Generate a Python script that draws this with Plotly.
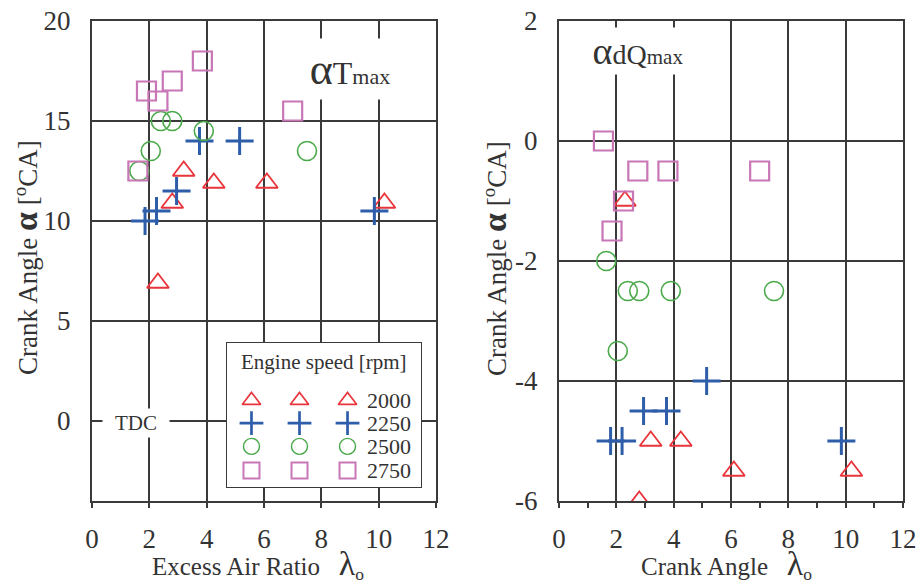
import plotly.graph_objects as go

# ---------------- data ----------------
speeds = ["2000", "2250", "2500", "2750"]

# Left panel: alpha_Tmax vs excess air ratio
tmax_2000_x = [3.2, 4.25, 6.1, 2.8, 10.2, 2.3]
tmax_2000_y = [12.5, 11.9, 11.9, 10.9, 10.9, 6.9]
tmax_2250_x = [3.75, 5.15, 2.95, 2.25, 1.85, 9.85]
tmax_2250_y = [14.0, 14.0, 11.5, 10.5, 10.0, 10.5]
tmax_2500_x = [2.4, 2.8, 3.9, 2.05, 7.5, 1.65]
tmax_2500_y = [15.0, 15.0, 14.5, 13.5, 13.5, 12.5]
tmax_2750_x = [3.85, 2.8, 1.9, 2.3, 7.0, 1.6]
tmax_2750_y = [18.0, 17.0, 16.5, 16.0, 15.5, 12.5]

# Right panel: alpha_dQmax vs excess air ratio
dq_2000_x = [2.3, 3.2, 4.25, 6.1, 10.2, 2.8]
dq_2000_y = [-1.0, -5.0, -5.0, -5.5, -5.5, -6.0]
dq_2250_x = [5.15, 2.95, 3.75, 1.8, 2.2, 9.85]
dq_2250_y = [-4.0, -4.5, -4.5, -5.0, -5.0, -5.0]
dq_2500_x = [1.65, 2.4, 2.8, 3.9, 7.5, 2.05]
dq_2500_y = [-2.0, -2.5, -2.5, -2.5, -2.5, -3.5]
dq_2750_x = [1.55, 2.75, 3.8, 7.0, 2.25, 1.85]
dq_2750_y = [0.0, -0.5, -0.5, -0.5, -1.0, -1.5]

x_ticks = [0, 2, 4, 6, 8, 10, 12]
left_y_ticks = [0, 5, 10, 15, 20]
right_y_ticks = [-6, -4, -2, 0, 2]

# ---------------- style ----------------
colors = ["#e8343a", "#2e5daa", "#4aaa4a", "#c876b6"]
symbols = ["triangle-up-open", "cross-thin-open", "circle-open", "square-open"]
sizes = [19, 20, 19, 19]
widths = [1.8, 3, 1.6, 2.2]
FONT = "Liberation Serif"
GRID = "#3a3a3a"
TXT = "#333333"

fig = go.Figure()

left_sets = [(tmax_2000_x, tmax_2000_y), (tmax_2250_x, tmax_2250_y),
             (tmax_2500_x, tmax_2500_y), (tmax_2750_x, tmax_2750_y)]
right_sets = [(dq_2000_x, dq_2000_y), (dq_2250_x, dq_2250_y),
              (dq_2500_x, dq_2500_y), (dq_2750_x, dq_2750_y)]

for i, (xs, ys) in enumerate(left_sets):
    fig.add_trace(go.Scatter(x=xs, y=ys, mode="markers", xaxis="x", yaxis="y",
                             showlegend=False,
                             marker=dict(symbol=symbols[i], size=sizes[i], color=colors[i],
                                         line=dict(width=widths[i], color=colors[i]))))
for i, (xs, ys) in enumerate(right_sets):
    fig.add_trace(go.Scatter(x=xs, y=ys, mode="markers", xaxis="x2", yaxis="y2",
                             showlegend=False,
                             marker=dict(symbol=symbols[i], size=sizes[i], color=colors[i],
                                         line=dict(width=widths[i], color=colors[i]))))

# custom legend (three marker columns per row) on an overlay axis pair
leg_cols = [0.13, 0.375, 0.62]
leg_rows = [0.60, 0.445, 0.285, 0.12]
for i in range(4):
    fig.add_trace(go.Scatter(x=leg_cols, y=[leg_rows[i]] * 3, mode="markers",
                             xaxis="x3", yaxis="y3", showlegend=False, hoverinfo="skip",
                             marker=dict(symbol=symbols[i], size=sizes[i] - 3, color=colors[i],
                                         line=dict(width=widths[i] * 0.9, color=colors[i]))))

# ---------------- layout ----------------
W, H = 917, 584
L0, L1 = 92 / W, 436 / W
R0, R1 = 559 / W, 903 / W

common_x = dict(range=[0, 12], tickvals=x_ticks, showgrid=True, gridcolor=GRID, gridwidth=2,
                showline=True, linecolor=GRID, linewidth=2, mirror=True, zeroline=False,
                ticks="outside", ticklen=5, tickwidth=2, tickcolor=GRID, automargin=False,
                tickfont=dict(family=FONT, size=27, color=TXT), ticklabelstandoff=8)
common_y = dict(showgrid=True, gridcolor=GRID, gridwidth=2, showline=True, linecolor=GRID,
                linewidth=2, mirror=True, zeroline=False, ticks="", automargin=False,
                tickfont=dict(family=FONT, size=27, color=TXT), ticklabelstandoff=14)

fig.update_layout(
    width=W, height=H,
    margin=dict(l=0, r=0, t=21, b=83, autoexpand=False),
    paper_bgcolor="white", plot_bgcolor="white",
    xaxis=dict(domain=[L0, L1], anchor="y", **common_x),
    yaxis=dict(domain=[0, 1], anchor="x", range=[-4, 20], tickvals=left_y_ticks,
               ticktext=[str(v) for v in left_y_ticks], **common_y),
    xaxis2=dict(domain=[R0, R1], anchor="y2",
                minor=dict(dtick=1, tick0=1, ticks="outside", ticklen=5, tickwidth=2,
                           tickcolor=GRID, showgrid=False),
                **common_x),
    yaxis2=dict(domain=[0, 1], anchor="x2", range=[-6, 2], tickvals=right_y_ticks,
                ticktext=[str(v) for v in right_y_ticks], **common_y),
    xaxis3=dict(domain=[226 / W, 422 / W], anchor="y3", range=[0, 1], visible=False, fixedrange=True),
    yaxis3=dict(domain=[(501 - 488) / 480, (501 - 342) / 480], anchor="x3", range=[0, 1],
                visible=False, fixedrange=True),
    showlegend=False,
)

# legend box
fig.add_shape(type="rect", xref="x3", yref="y3", x0=0, x1=1, y0=0, y1=1,
              fillcolor="white", line=dict(color=GRID, width=2), layer="below")

ann = []
ann.append(dict(xref="x3", yref="y3", x=0.5, y=0.86, text="Engine speed [rpm]",
                xanchor="center", yanchor="middle",
                showarrow=False, font=dict(family=FONT, size=21, color=TXT)))
for i, s in enumerate(speeds):
    ann.append(dict(xref="x3", yref="y3", x=0.71, y=leg_rows[i], text=s, xanchor="left",
                    yanchor="middle",
                    showarrow=False, font=dict(family=FONT, size=22, color=TXT)))

# in-plot labels
ann.append(dict(xref="x", yref="y", x=1.55, y=-0.1, text="TDC", showarrow=False,
                xanchor="center", yanchor="middle",
                bgcolor="white", width=64, height=26,
                font=dict(family=FONT, size=21, color=TXT)))
ann.append(dict(xref="x", yref="y", x=9.0, y=17.6,
                text="<span style='font-size:44px'>α</span><span style='font-size:32px'>T</span>"
                     "<span style='font-size:22px'>max</span>",
                xanchor="center", yanchor="middle",
                showarrow=False, bgcolor="white", width=120, height=58,
                font=dict(family=FONT, size=32, color=TXT)))
ann.append(dict(xref="x2", yref="y2", x=2.75, y=1.5,
                text="<span style='font-size:38px'>α</span><span style='font-size:28px'>dQ</span>"
                     "<span style='font-size:21px'>max</span>",
                xanchor="center", yanchor="middle",
                showarrow=False, bgcolor="white", width=110, height=44,
                font=dict(family=FONT, size=28, color=TXT)))

# axis titles
ytitle = "Crank Angle <b><span style='font-size:34px'>α</span></b> [<sup>o</sup>CA]"
ann.append(dict(xref="paper", yref="paper", x=25 / W, y=(501 - 258) / 480, textangle=-90,
                xanchor="center", yanchor="middle", text=ytitle,
                showarrow=False, font=dict(family=FONT, size=27, color=TXT)))
ann.append(dict(xref="paper", yref="paper", x=494 / W, y=(501 - 258) / 480, textangle=-90,
                xanchor="center", yanchor="middle", text=ytitle,
                showarrow=False, font=dict(family=FONT, size=27, color=TXT)))
ann.append(dict(xref="paper", yref="paper", x=258 / W, y=-(564 - 501) / 480,
                xanchor="center", yanchor="middle",
                text="Excess Air Ratio   <span style='font-size:34px'>λ</span><sub>o</sub>",
                showarrow=False, font=dict(family=FONT, size=25, color=TXT)))
ann.append(dict(xref="paper", yref="paper", x=726 / W, y=-(564 - 501) / 480,
                xanchor="center", yanchor="middle",
                text="Crank Angle   <span style='font-size:34px'>λ</span><sub>o</sub>",
                showarrow=False, font=dict(family=FONT, size=25, color=TXT)))

fig.update_layout(annotations=ann)
fig.write_html("out.html")
